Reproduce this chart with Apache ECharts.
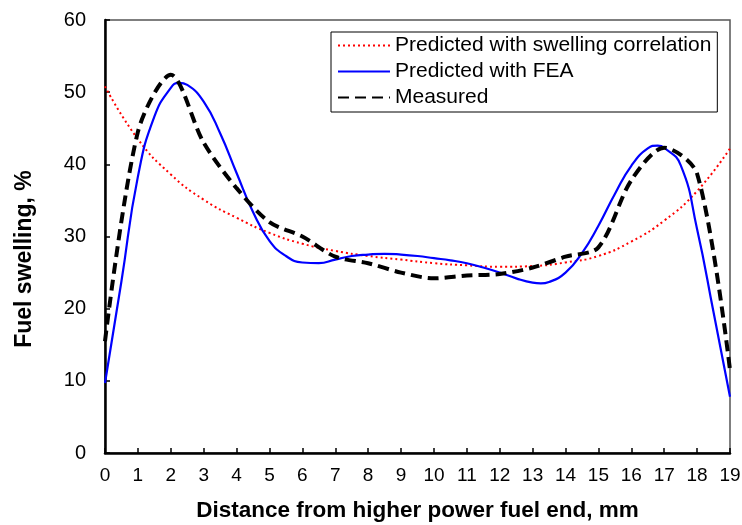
<!DOCTYPE html>
<html>
<head>
<meta charset="utf-8">
<script src="https://cdn.jsdelivr.net/npm/echarts@6/dist/echarts.min.js"></script>
<style>
  html, body { margin: 0; padding: 0; background: #fff; }
  #chart { width: 742px; height: 525px; }
</style>
</head>
<body>
<div id="chart"></div>
<script>
// distance, mm
const distance = [0, 1, 2, 3, 4, 5, 6, 7, 8, 9, 10, 11, 12, 13, 14, 15, 16, 17, 18, 19];
// predicted with swelling correlation, %
const correlation = [50.8, 43.5, 38.6, 35.1, 32.6, 30.5, 29.0, 28.0, 27.3, 26.8, 26.3, 26.0, 25.8, 25.9, 26.4, 27.3, 29.3, 32.2, 36.3, 42.2];
// FEA curve, read at finer steps near the peaks
const feaDistance = [0, 0.5, 1, 1.5, 2, 2.25, 2.5, 3, 3.5, 4, 4.5, 5, 5.5, 6, 6.5, 7, 7.5, 8, 8.5, 9, 9.5,
  10, 10.5, 11, 11.5, 12, 12.5, 13, 13.25, 13.5, 14, 14.5, 15, 15.5, 16, 16.5, 16.8, 17, 17.5, 18, 18.5, 19];
const fea = [9.7, 23.8, 38.3, 46.6, 50.6, 51.3, 51.0, 48.7, 44.3, 38.8, 33.4, 29.4, 27.3, 26.4, 26.3, 26.8, 27.3, 27.5, 27.6, 27.5, 27.3,
  27.0, 26.7, 26.3, 25.7, 25.0, 24.2, 23.6, 23.5, 23.7, 25.0, 27.7, 31.5, 35.9, 39.8, 42.2, 42.6, 42.3, 39.9, 31.0, 19.5, 7.8];
// measured, %
const measured = [15.5, 44.5, 52.4, 43.0, 36.7, 32.0, 30.0, 27.2, 26.3, 25.0, 24.2, 24.6, 24.8, 25.7, 27.2, 28.5, 37.8, 42.3, 38.7, 11.5];

const yTicks = [0, 10, 20, 30, 40, 50, 60];

function pairs(xs, ys) {
  return xs.map((x, i) => [x, ys[i]]);
}

const chart = echarts.init(document.getElementById('chart'), null, { renderer: 'canvas' });

const option = {
  animation: false,
  backgroundColor: '#fff',
  textStyle: { fontFamily: 'Liberation Sans, Arial, sans-serif' },
  grid: {
    left: 105, right: 12, top: 20, bottom: 72,
    outerBoundsMode: 'none',
    containLabel: false,
    show: true, borderColor: '#555', borderWidth: 1.5
  },
  // y title sits a little below the axis middle in the original
  graphic: [{
    type: 'text',
    x: 25, y: 259,
    rotation: Math.PI / 2,
    style: {
      text: 'Fuel swelling, %',
      fill: '#000',
      font: 'bold 23px "Liberation Sans", Arial, sans-serif',
      align: 'center',
      verticalAlign: 'middle'
    }
  }],
  legend: {
    orient: 'vertical',
    left: 331, top: 32,
    padding: [3, 6, 4, 6],
    itemGap: 5,
    itemWidth: 52, itemHeight: 14,
    borderColor: '#000', borderWidth: 1,
    backgroundColor: '#fff',
    itemStyle: { opacity: 0 },
    textStyle: { fontSize: 21, color: '#000', fontFamily: 'Liberation Sans, Arial, sans-serif' },
    data: ['Predicted with swelling correlation', 'Predicted with FEA', 'Measured']
  },
  xAxis: {
    type: 'value',
    min: 0, max: 19, interval: 1,
    name: 'Distance from higher power fuel end, mm',
    nameLocation: 'middle',
    nameGap: 46,
    nameTextStyle: { fontSize: 22.5, fontWeight: 'bold', color: '#000' },
    axisLine: { lineStyle: { color: '#000', width: 2.5 } },
    axisTick: { inside: true, length: 5, lineStyle: { color: '#000', width: 1.5 } },
    axisLabel: { fontSize: 19, color: '#000', margin: 13 },
    splitLine: { show: false }
  },
  yAxis: {
    type: 'value',
    min: yTicks[0], max: yTicks[yTicks.length - 1], interval: 10,
    axisLine: { show: true, lineStyle: { color: '#000', width: 2.5 } },
    axisTick: { show: true, inside: true, length: 5, lineStyle: { color: '#000', width: 1.5 } },
    axisLabel: { fontSize: 20, color: '#000', margin: 19 },
    splitLine: { show: false }
  },
  series: [
    {
      name: 'Predicted with swelling correlation',
      type: 'line',
      data: pairs(distance, correlation),
      smooth: 0.5,
      symbol: 'none',
      lineStyle: { color: '#ff0000', width: 2, type: [2, 3] },
      itemStyle: { color: '#ff0000' },
      z: 3
    },
    {
      name: 'Predicted with FEA',
      type: 'line',
      data: pairs(feaDistance, fea),
      smooth: 0.5,
      symbol: 'none',
      lineStyle: { color: '#0000ff', width: 2.2 },
      itemStyle: { color: '#0000ff' },
      z: 4
    },
    {
      name: 'Measured',
      type: 'line',
      data: pairs(distance, measured),
      smooth: 0.3,
      symbol: 'none',
      lineStyle: { color: '#000', width: 4, type: [11, 6] },
      itemStyle: { color: '#000' },
      z: 5
    }
  ]
};

chart.setOption(option);
</script>
</body>
</html>
